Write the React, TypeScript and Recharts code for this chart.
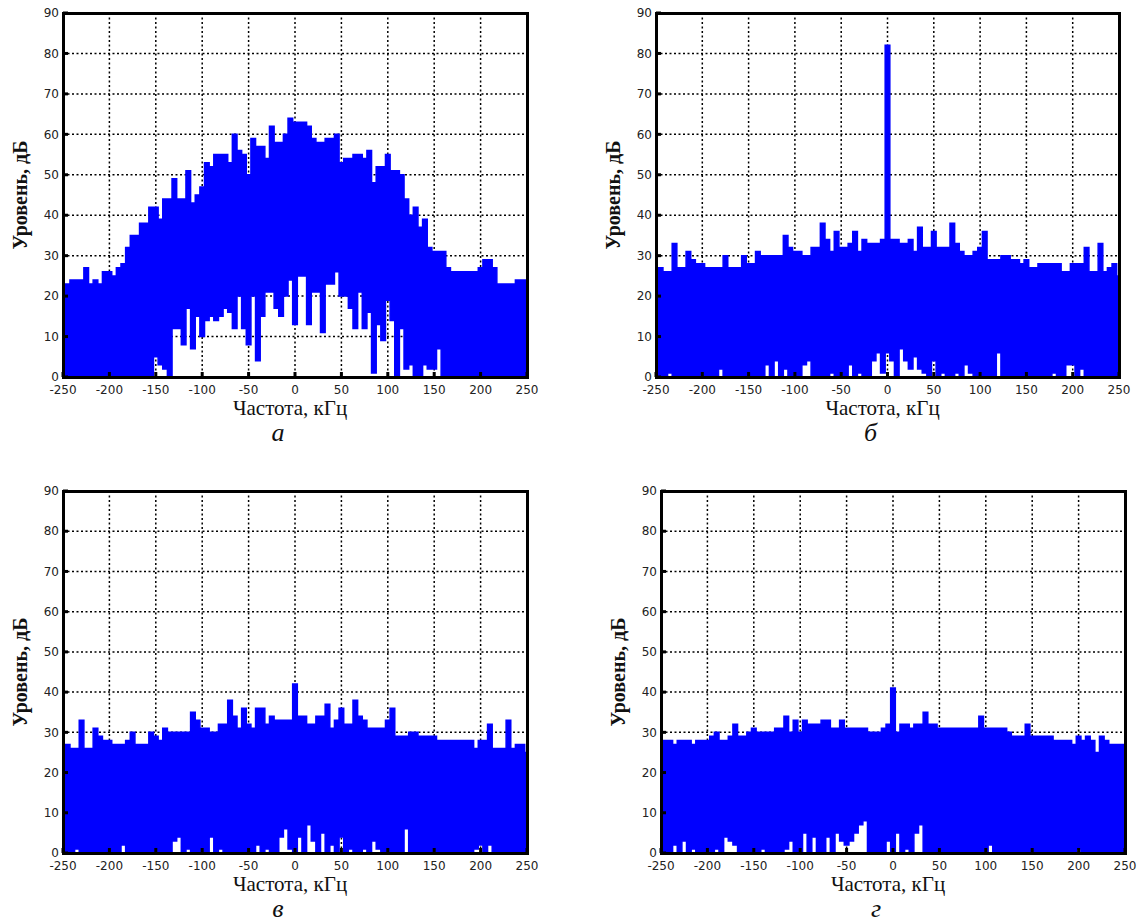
import { AreaChart, Area, XAxis, YAxis, CartesianGrid } from 'recharts';

// bin centres, kHz (5 kHz step)
const freqs = [
  -250, -245, -240, -235, -230, -225, -220, -215, -210, -205,
  -200, -195, -190, -185, -180, -175, -170, -165, -160, -155,
  -150, -145, -140, -135, -130, -125, -120, -115, -110, -105,
  -100, -95, -90, -85, -80, -75, -70, -65, -60, -55,
  -50, -45, -40, -35, -30, -25, -20, -15, -10, -5,
  0, 5, 10, 15, 20, 25, 30, 35, 40, 45,
  50, 55, 60, 65, 70, 75, 80, 85, 90, 95,
  100, 105, 110, 115, 120, 125, 130, 135, 140, 145,
  150, 155, 160, 165, 170, 175, 180, 185, 190, 195,
  200, 205, 210, 215, 220, 225, 230, 235, 240, 245,
  250,
];

// panel а
const upperA = [
  22, 23, 24, 24, 24, 27, 23, 24, 23, 26,
  26, 25, 27, 28, 32, 35, 35, 38, 38, 42,
  42, 39, 44, 44, 49, 44, 44, 51, 43, 45,
  47, 53, 52, 55, 55, 55, 53, 60, 56, 55,
  50, 59, 57, 57, 54, 62, 58, 58, 60, 64,
  63, 63, 63, 62, 59, 58, 58, 59, 59, 60,
  53, 54, 54, 55, 55, 54, 56, 48, 52, 52,
  55, 51, 51, 50, 44, 40, 42, 37, 39, 32,
  31, 31, 31, 27, 26, 26, 26, 26, 26, 26,
  27, 29, 29, 27, 23, 23, 23, 23, 24, 24,
  24,
];
const lowerA = [
  0, 0, 0, 0, 0, 0, 0, 0, 0, 0,
  0, 0, 0, 0, 0, 0, 0, 0, 0, 0,
  5, 3, 2, 0, 12, 12, 8, 17, 7, 15,
  10, 14, 15, 14, 15, 17, 16, 12, 20, 12,
  8, 20, 4, 15, 21, 21, 17, 15, 20, 24,
  13, 25, 25, 13, 21, 21, 11, 23, 23, 26,
  20, 20, 17, 12, 21, 12, 16, 1, 13, 9,
  19, 14, 0, 12, 2, 3, 0, 0, 3, 2,
  2, 7, 0, 0, 0, 0, 0, 0, 0, 0,
  0, 0, 0, 0, 0, 0, 0, 0, 0, 0,
  0,
];

// panel б
const upperB = [
  27, 27, 26, 26, 33, 27, 27, 31, 29, 28,
  28, 27, 27, 27, 27, 30, 27, 27, 27, 30,
  28, 28, 31, 30, 30, 30, 30, 30, 35, 32,
  31, 31, 30, 30, 32, 32, 38, 34, 31, 36,
  32, 32, 33, 36, 31, 34, 33, 33, 33, 34,
  82, 34, 34, 33, 33, 34, 31, 37, 32, 32,
  36, 32, 32, 32, 38, 33, 31, 30, 30, 31,
  32, 36, 29, 29, 29, 30, 30, 29, 29, 28,
  29, 27, 27, 28, 28, 28, 28, 28, 26, 26,
  28, 28, 28, 32, 26, 26, 33, 26, 27, 28,
  25,
];
const lowerB = [
  0, 0, 0, 1, 0, 0, 0, 0, 0, 0,
  0, 0, 0, 0, 2, 0, 0, 0, 0, 0,
  0, 0, 0, 0, 3, 0, 4, 0, 2, 0,
  0, 0, 3, 4, 0, 0, 0, 0, 1, 0,
  0, 0, 3, 0, 1, 0, 0, 4, 6, 1,
  6, 4, 0, 7, 4, 2, 5, 2, 1, 0,
  4, 0, 1, 0, 0, 1, 0, 3, 1, 0,
  0, 0, 0, 0, 6, 0, 0, 0, 0, 0,
  0, 0, 0, 0, 0, 0, 1, 0, 0, 3,
  3, 0, 2, 0, 0, 0, 0, 0, 0, 0,
  0,
];

// panel в
const upperC = [
  25, 27, 26, 26, 33, 26, 26, 31, 29, 28,
  28, 27, 27, 27, 28, 30, 27, 27, 27, 30,
  29, 28, 31, 30, 30, 30, 30, 30, 35, 33,
  31, 31, 30, 30, 32, 32, 38, 34, 31, 36,
  32, 31, 36, 36, 32, 34, 33, 33, 33, 33,
  42, 34, 34, 32, 32, 34, 34, 37, 31, 33,
  36, 32, 32, 38, 34, 33, 31, 31, 31, 31,
  33, 36, 29, 29, 29, 30, 30, 29, 29, 29,
  29, 28, 28, 28, 28, 28, 28, 28, 28, 26,
  28, 28, 32, 26, 26, 26, 33, 26, 27, 27,
  25,
];
const lowerC = [
  0, 0, 0, 1, 0, 0, 0, 0, 0, 0,
  0, 0, 0, 2, 0, 0, 0, 0, 0, 0,
  0, 0, 0, 0, 3, 4, 0, 1, 0, 0,
  0, 0, 4, 0, 1, 0, 0, 0, 0, 0,
  0, 0, 2, 0, 1, 0, 0, 4, 6, 1,
  0, 4, 0, 7, 3, 0, 5, 0, 2, 0,
  4, 0, 1, 0, 0, 1, 0, 3, 1, 0,
  0, 0, 0, 0, 6, 0, 0, 0, 0, 0,
  0, 0, 0, 0, 0, 0, 0, 0, 0, 1,
  2, 0, 2, 0, 0, 0, 0, 0, 0, 0,
  0,
];

// panel г
const upperD = [
  28, 28, 28, 27, 28, 28, 28, 27, 28, 28,
  28, 29, 30, 28, 28, 29, 32, 29, 29, 30,
  31, 30, 30, 30, 30, 31, 31, 34, 30, 33,
  30, 33, 32, 32, 32, 33, 33, 31, 31, 33,
  31, 31, 31, 31, 31, 30, 30, 30, 31, 32,
  41, 30, 32, 32, 31, 32, 32, 35, 32, 32,
  31, 31, 31, 31, 31, 31, 31, 31, 31, 34,
  31, 31, 31, 31, 31, 30, 29, 29, 29, 32,
  29, 29, 29, 29, 29, 28, 28, 28, 28, 27,
  29, 28, 29, 28, 25, 29, 28, 27, 27, 27,
  27,
];
const lowerD = [
  0, 0, 0, 2, 0, 3, 0, 1, 0, 0,
  0, 0, 1, 0, 4, 3, 2, 0, 0, 0,
  0, 0, 1, 0, 0, 0, 0, 1, 3, 0,
  0, 5, 0, 4, 0, 0, 4, 0, 5, 3,
  2, 3, 5, 7, 8, 0, 0, 0, 0, 3,
  0, 5, 0, 1, 0, 5, 7, 0, 0, 0,
  0, 0, 0, 0, 0, 0, 0, 0, 0, 0,
  0, 2, 0, 0, 0, 0, 0, 0, 0, 0,
  0, 0, 0, 0, 0, 0, 0, 0, 0, 0,
  1, 0, 0, 0, 0, 0, 0, 0, 0, 0,
  0,
];

const xTicks = [-250, -200, -150, -100, -50, 0, 50, 100, 150, 200, 250];
const yTicks = [0, 10, 20, 30, 40, 50, 60, 70, 80, 90];

const xTitle = 'Частота, кГц';
const yTitle = 'Уровень, дБ';

const panels = [
  { id: 'a', letter: 'а', upper: upperA, lower: lowerA, left: 63, top: 13, width: 464, height: 364 },
  { id: 'b', letter: 'б', upper: upperB, lower: lowerB, left: 656, top: 13, width: 463, height: 364 },
  { id: 'c', letter: 'в', upper: upperC, lower: lowerC, left: 63, top: 491, width: 464, height: 362 },
  { id: 'd', letter: 'г', upper: upperD, lower: lowerD, left: 661, top: 491, width: 464, height: 362 },
];

const ML = 63;
const MT = 13;
const MR = 14;
const MB = 25;

const tickMark = { stroke: '#000', strokeWidth: 3 };
const tickFont = { fill: '#222', fontSize: 12, fontFamily: 'DejaVu Sans' };

function Spectrum({ upper, lower, left, top, width, height, letter }: any) {
  const data = freqs.map((f, i) => ({ f, level: [lower[i], upper[i]] }));
  return (
    <>
      <div style={{ position: 'absolute', left: left - ML, top: top - MT }}>
        <AreaChart
          width={width + ML + MR}
          height={height + MT + MB}
          data={data}
          margin={{ top: MT - 1, right: MR - 1, bottom: 5, left: 18 }}
        >
          <CartesianGrid stroke="#000" strokeWidth={1.5} strokeDasharray="2 2.5" />
          <XAxis
            dataKey="f"
            type="number"
            domain={[-250, 250]}
            ticks={xTicks}
            interval={0}
            height={20}
            tickSize={-5}
            tickMargin={13}
            axisLine={false}
            tickLine={tickMark}
            tick={tickFont}
          />
          <XAxis
            xAxisId="top"
            orientation="top"
            dataKey="f"
            type="number"
            domain={[-250, 250]}
            ticks={xTicks}
            height={1}
            tickSize={-5}
            axisLine={false}
            tickLine={tickMark}
            tick={false}
          />
          <YAxis
            type="number"
            domain={[0, 90]}
            ticks={yTicks}
            interval={0}
            width={45}
            tickSize={-5}
            tickMargin={9}
            axisLine={false}
            tickLine={tickMark}
            tick={tickFont}
          />
          <YAxis
            yAxisId="right"
            orientation="right"
            type="number"
            domain={[0, 90]}
            ticks={yTicks}
            width={1}
            tickSize={-5}
            axisLine={false}
            tickLine={tickMark}
            tick={false}
          />
          <Area
            dataKey="level"
            type="step"
            stroke="#0000FF"
            strokeWidth={1.5}
            fill="#0000FF"
            fillOpacity={1}
            dot={false}
            activeDot={false}
            isAnimationActive={false}
          />
        </AreaChart>
      </div>
      {/* heavy box round the plot area */}
      <div
        style={{
          position: 'absolute',
          left: left - 1.5,
          top: top - 1.5,
          width: width + 3,
          height: height + 3,
          boxSizing: 'border-box',
          border: '3px solid #000',
          pointerEvents: 'none',
        }}
      />
      <div
        style={{
          position: 'absolute',
          left: left + width / 2 - 5,
          top: top + height + 31,
          transform: 'translate(-50%, -50%)',
          fontFamily: 'Liberation Serif',
          fontSize: 21,
          color: '#111',
          whiteSpace: 'nowrap',
        }}
      >
        {xTitle}
      </div>
      <div
        style={{
          position: 'absolute',
          left: left - 43,
          top: top + height / 2,
          transform: 'translate(-50%, -50%) rotate(-90deg)',
          fontFamily: 'Liberation Serif',
          fontWeight: 'bold',
          fontSize: 20,
          color: '#111',
          whiteSpace: 'nowrap',
        }}
      >
        {yTitle}
      </div>
      <div
        style={{
          position: 'absolute',
          left: left + width / 2 - 17,
          top: top + height + 56,
          transform: 'translate(-50%, -50%)',
          fontFamily: 'Liberation Serif',
          fontStyle: 'italic',
          fontSize: 26,
          color: '#111',
        }}
      >
        {letter}
      </div>
    </>
  );
}

export default function App() {
  return (
    <div
      style={{
        position: 'absolute',
        left: 0,
        top: 0,
        width: 1141,
        height: 924,
        overflow: 'hidden',
        background: '#fff',
      }}
    >
      {panels.map((p) => (
        <Spectrum key={p.id} {...p} />
      ))}
    </div>
  );
}
